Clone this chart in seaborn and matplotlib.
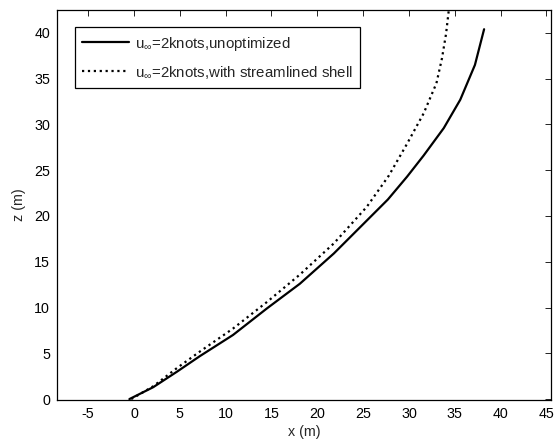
import numpy as np
import pandas as pd
import seaborn as sns
import matplotlib.pyplot as plt

# trajectory of the unoptimized case (x, z in metres)
x_unopt = [-0.5, 2.1, 4.7, 7.2, 10.8, 14.5, 18.1, 21.8, 25.4, 27.7,
           29.8, 31.6, 33.8, 35.6, 37.2, 38.2]
z_unopt = [0.0, 1.3, 3.0, 4.7, 7.0, 9.9, 12.6, 15.9, 19.5, 21.8,
           24.3, 26.6, 29.6, 32.7, 36.5, 40.4]

# trajectory with streamlined shell
x_shell = [-0.3, 2.1, 4.7, 7.2, 10.8, 14.5, 18.1, 21.8, 25.4, 27.8,
           29.8, 31.6, 33.0, 33.6, 34.05, 34.35, 34.5]
z_shell = [0.0, 1.4, 3.4, 5.2, 7.7, 10.6, 13.6, 17.0, 21.0, 24.4,
           27.9, 31.2, 34.5, 37.2, 39.9, 42.5, 43.5]

labels = [r"u$_{\infty}$=2knots,unoptimized",
          r"u$_{\infty}$=2knots,with streamlined shell"]
xticks = list(range(-5, 50, 5))
yticks = list(range(0, 45, 5))

sns.set_style("white")
plt.rcParams['font.family'] = ['Liberation Sans', 'DejaVu Sans']
plt.rcParams['mathtext.fontset'] = 'custom'
plt.rcParams['mathtext.rm'] = 'Liberation Sans'
plt.rcParams['mathtext.it'] = 'Liberation Sans'
plt.rcParams['axes.unicode_minus'] = False

df1 = pd.DataFrame({"x": x_unopt, "z": z_unopt})
df2 = pd.DataFrame({"x": x_shell, "z": z_shell})

fig = plt.figure(figsize=(5.54, 4.48), dpi=100)
ax = fig.add_axes([57 / 554, 1 - 400 / 448, 494 / 554, 390 / 448])

sns.lineplot(data=df1, x="x", y="z", sort=False, estimator=None,
             color="black", linewidth=1.6, ax=ax, label=labels[0])
sns.lineplot(data=df2, x="x", y="z", sort=False, estimator=None,
             color="black", linewidth=1.6, linestyle=":", ax=ax, label=labels[1])

ax.set_xlim(-8.4, 45.5)
ax.set_ylim(-0.1, 42.5)
ax.set_xticks(xticks)
ax.set_yticks(yticks)
ax.tick_params(direction="in", length=4, width=0.6, top=True, right=True,
               labelsize=10.3, colors="black", pad=5)
for s in ax.spines.values():
    s.set_color("black")
    s.set_linewidth(0.9)
ax.set_xlabel("x (m)", fontsize=10.3, labelpad=3)
ax.set_ylabel("z (m)", fontsize=10.3, labelpad=6)

leg = ax.legend(loc="upper left", bbox_to_anchor=(0.036, 0.956), borderaxespad=0,
                fontsize=10.8, handlelength=3.1, labelspacing=0.75, fancybox=False,
                framealpha=1, edgecolor="black", borderpad=0.5, handletextpad=0.4)
leg.get_frame().set_linewidth(0.9)

plt.savefig("out.png", dpi=100)
